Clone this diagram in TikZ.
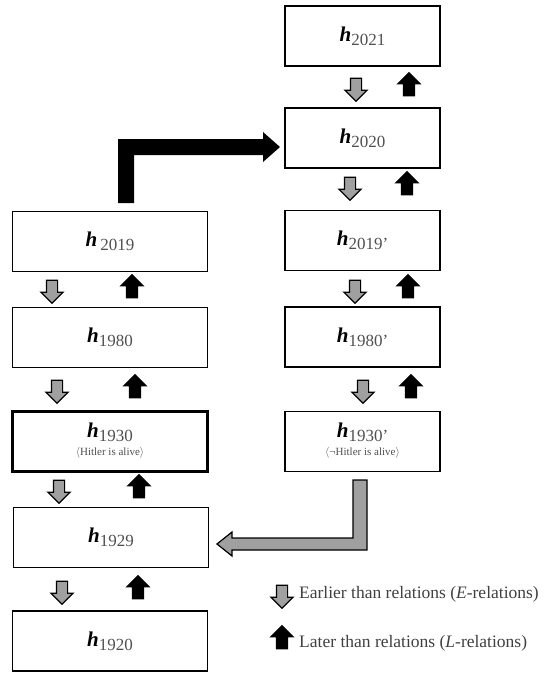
\documentclass[tikz,border=0pt]{standalone}
\usepackage{fontspec}
\setmainfont{Liberation Serif}
\usetikzlibrary{shapes.arrows,calc}
\definecolor{arrgray}{HTML}{A0A0A0}
\definecolor{subgray}{HTML}{505050}
\definecolor{txtgray}{HTML}{404040}
\newcommand{\hlab}[1]{{\fontsize{21}{22}\selectfont\bfseries\itshape h}{\fontsize{17}{18}\selectfont\color{subgray}\raisebox{-4pt}{#1}}}
\newcommand{\hnote}[1]{{\fontsize{11}{12}\selectfont\color{subgray}#1}}
\begin{document}
\begin{tikzpicture}[x=1pt,y=-1pt]
\useasboundingbox (0,0) rectangle (548,673);
\tikzset{
  hbox/.style={draw, line width=1.8pt, fill=white, inner sep=0pt, align=center},
  lbox/.style={hbox, minimum width=195pt, minimum height=60pt},
  rbox/.style={hbox, minimum width=155pt, minimum height=60pt},
  blk/.style={single arrow, inner sep=5pt, single arrow head extend=5.5pt,
    single arrow head indent=0pt, minimum height=23pt, line width=1.2pt, draw=black},
  earr/.style={blk, fill=arrgray, shape border rotate=270},
  larr/.style={blk, fill=black, shape border rotate=90},
  legtext/.style={anchor=west, inner sep=0pt, text=txtgray, font=\fontsize{17.5}{20}\selectfont}
}
% right column
\node[rbox] (r2021) at (362.5,36) {\hlab{2021}};
\node[rbox] (r2020) at (362.5,138) {\hlab{2020}};
\node[rbox] (r2019) at (362.5,240.5) {\hlab{2019'}};
\node[rbox] (r1980) at (362.5,337) {\hlab{1980'}};
\node[rbox] (r1930) at (362.5,441.5) {\begin{tabular}{@{}c@{}}\hlab{1930'}\\[6pt]\hnote{$\langle$¬Hitler is alive$\rangle$}\end{tabular}};
% left column
\node[lbox] (l2019) at (110,241.5) {\hlab{\,2019}};
\node[lbox] (l1980) at (110,337.5) {\hlab{1980}};
\node[lbox, line width=2.2pt] (l1930) at (110,441.5) {\begin{tabular}{@{}c@{}}\hlab{1930}\\[6pt]\hnote{$\langle$Hitler is alive$\rangle$}\end{tabular}};
\node[lbox] (l1929) at (111,537.5) {\hlab{1929}};
\node[lbox] (l1920) at (110,641) {\hlab{1920}};
% small relation arrows, right column
\node[earr] (e1) at (356,87) {};  \node[larr] (u1) at (409,87) {};
\node[earr] (e2) at (350,186) {}; \node[larr] (u2) at (407,186) {};
\node[earr] (e3) at (355,289) {}; \node[larr] (u3) at (408,289) {};
\node[earr] (e4) at (363,389) {}; \node[larr] (u4) at (411,389) {};
% small relation arrows, left column
\node[earr] (e5) at (52,289) {};  \node[larr] (u5) at (132,289) {};
\node[earr] (e6) at (57,389) {};  \node[larr] (u6) at (135,389) {};
\node[earr] (e7) at (59,489) {};  \node[larr] (u7) at (139,489) {};
\node[earr] (e8) at (62,590) {};  \node[larr] (u8) at (138,590) {};
% big black bent arrow: h2019 -> h2020
\fill[black] (118,203) -- (118,139) -- (263,139) -- (263,132) -- (280,147)
  -- (263,162) -- (263,155) -- (134,155) -- (134,203) -- cycle;
% big gray bent arrow: h1930' -> h1929
\draw[fill=arrgray, line width=1.2pt, line join=miter] (353,480) -- (367,480) -- (367,550)
  -- (232,550) -- (232,556) -- (217,544) -- (232,532) -- (232,538) -- (353,538) -- cycle;
% legend
\node[earr] (le) at (282,594) {};
\node[legtext] (lt1) at (299,594) {Earlier than relations (\textit{E}-relations)};
\node[larr] (ll) at (282,640) {};
\node[legtext] (lt2) at (299,643) {Later than relations (\textit{L}-relations)};
\end{tikzpicture}
\end{document}
